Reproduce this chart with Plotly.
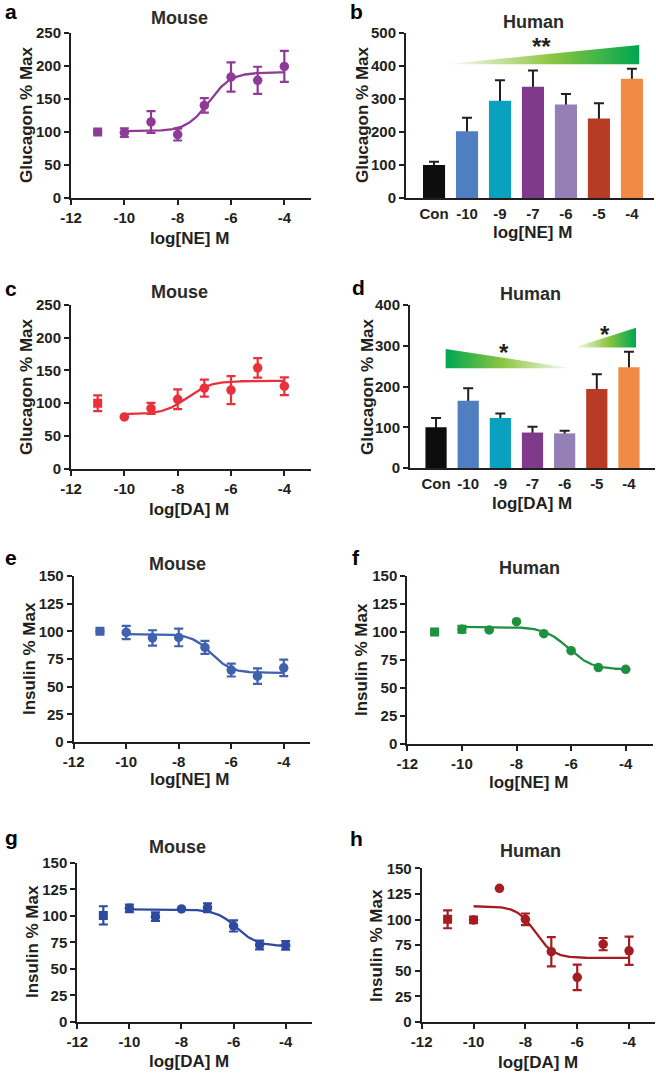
import numpy as np
import plotly.graph_objects as go

W, H = 656, 1073
FONT = "Liberation Sans, Arial, Helvetica, sans-serif"
INK = "#231f20"
TITLE_INK = "#2b2b2b"

# ---------------- data ----------------
doses = [-10, -9, -8, -7, -6, -5, -4]
ctrl_dose = [-11]
curve_ticks = [-12, -10, -8, -6, -4]
curve_ticktext = ["-12", "-10", "-8", "-6", "-4"]

# a: mouse glucagon, NE
a_y = [99, 115, 96, 140, 183, 178, 199]
a_err = [6.5, 16.5, 9, 11, 22, 20.5, 23.5]
a_ctrl = [100]
a_ctrl_err = [0]
a_fit = [101, 190, -6.83, 1.05]          # bottom, top, logEC50, hill

# b: human glucagon, NE (bars)
bar_labels = ["Con", "-10", "-9", "-7", "-6", "-5", "-4"]
bar_colors = ["#0d0d0d", "#4f7fc1", "#0aa0c0", "#7f3a8a", "#9580b6", "#b83b26", "#f18a45"]
b_y = [100, 202, 295, 337, 283, 241, 361]
b_err = [10, 41, 62, 49, 32, 46, 31]

# c: mouse glucagon, DA
c_y = [79, 92, 106, 123, 120, 154, 126]
c_err = [0, 8.5, 15, 13, 21.5, 15, 13.5]
c_ctrl = [100]
c_ctrl_err = [12]
c_fit = [83, 134, -7.65, 1.0]

# d: human glucagon, DA (bars)
d_y = [100, 165, 123, 87, 85, 194, 247]
d_err = [23, 31, 11, 14, 6.5, 36, 38]

# e: mouse insulin, NE
e_y = [99, 94, 94.5, 85.5, 65, 59.5, 67]
e_err = [6, 7, 8, 5.8, 5.8, 7, 7.5]
e_ctrl = [100]
e_ctrl_err = [0]
e_fit = [62.5, 97.5, -6.76, -1.16]

# f: human insulin, NE
f_y = [102.4, 101.8, 109.2, 98.5, 83.3, 68.2, 66.7]
f_err = [3, 0, 0, 0, 0, 0, 0]
f_ctrl = [100]
f_ctrl_err = [0]
f_fit = [66.5, 104.5, -6.1, -1.0]

# g: mouse insulin, DA
g_y = [107, 99.2, 106.5, 107.6, 90.4, 72.5, 72.2]
g_err = [3.5, 4, 0, 4.2, 5.2, 4.1, 4]
g_ctrl = [100.4]
g_ctrl_err = [8.6]
g_fit = [71.5, 106, -5.88, -1.1]

# h: human insulin, DA
h_y = [99.6, 130.5, 100.2, 68.6, 43.6, 76, 69.5]
h_err = [3.2, 0, 5.7, 14.3, 12.4, 6, 13.8]
h_ctrl = [100.2]
h_ctrl_err = [8.7]
h_fit = [62.5, 113, -7.62, -1.23]

# ---------------- figure ----------------
fig = go.Figure()
layout = dict(width=W, height=H, template="none",
              margin=dict(l=0, r=0, t=0, b=0, pad=0, autoexpand=False),
              paper_bgcolor="white", plot_bgcolor="white", showlegend=False)
annotations = []

tickfont = dict(family=FONT, size=15, color=INK, weight="bold")


def dom(box):
    x0, x1, y0, y1 = box
    return [x0 / W, x1 / W], [1 - y1 / H, 1 - y0 / H]


def axis_common():
    return dict(showline=True, linewidth=2, linecolor=INK, showgrid=False,
                zeroline=False, ticks="outside", ticklen=5, tickwidth=2,
                tickcolor=INK, tickfont=tickfont, fixedrange=True, automargin=False)


def text(xpx, ypx, s, size, angle=0, color=INK, xanchor="center"):
    annotations.append(dict(x=xpx / W, y=1 - ypx / H, xref="paper", yref="paper",
                            text=s, showarrow=False, textangle=angle,
                            xanchor=xanchor, yanchor="middle",
                            font=dict(family=FONT, size=size, color=color, weight="bold")))


def labels(letter, lpos, title, tpos, xlab, xpos, ylab, ypos):
    text(lpos[0], lpos[1], letter, 21, xanchor="left", color="#000000")
    text(tpos[0], tpos[1], title, 18, color=TITLE_INK)
    text(xpos[0], xpos[1], xlab, 17)
    text(ypos[0], ypos[1], ylab, 17, angle=-90)


def curve_panel(i, box, y, err, ctrl_y, ctrl_err, fit, color, ymax, ydtick):
    xd, yd = dom(box)
    layout[f"xaxis{i}"] = dict(axis_common(), domain=xd, anchor=f"y{i}", range=[-12, -3],
                               tickvals=curve_ticks, ticktext=curve_ticktext)
    layout[f"yaxis{i}"] = dict(axis_common(), domain=yd, anchor=f"x{i}", range=[0, ymax],
                               tick0=0, dtick=ydtick)
    bottom, top, x50, hill = fit
    xs = np.linspace(min(doses), max(doses), 241)
    ys = bottom + (top - bottom) / (1 + 10 ** ((x50 - xs) * hill))
    fig.add_trace(go.Scatter(x=xs, y=ys, mode="lines", line=dict(color=color, width=2.3),
                             xaxis=f"x{i}", yaxis=f"y{i}", hoverinfo="skip"))
    fig.add_trace(go.Scatter(x=doses, y=y, mode="markers",
                             marker=dict(symbol="circle", size=9.5, color=color),
                             error_y=dict(type="data", array=err, color=color,
                                          thickness=2.2, width=4.5, visible=True),
                             xaxis=f"x{i}", yaxis=f"y{i}"))
    fig.add_trace(go.Scatter(x=ctrl_dose, y=ctrl_y, mode="markers",
                             marker=dict(symbol="square", size=9, color=color),
                             error_y=dict(type="data", array=ctrl_err, color=color,
                                          thickness=2.2, width=4.5, visible=True),
                             xaxis=f"x{i}", yaxis=f"y{i}"))


def bar_panel(i, ov, box, y, err, xr, ymax, width):
    xd, yd = dom(box)
    pos = list(range(len(y)))
    layout[f"xaxis{i}"] = dict(axis_common(), domain=xd, anchor=f"y{i}", range=xr,
                               tickvals=pos, ticktext=bar_labels, ticklen=1,
                               tickcolor="rgba(0,0,0,0)")
    layout[f"yaxis{i}"] = dict(axis_common(), domain=yd, anchor=f"x{i}", range=[0, ymax],
                               tick0=0, dtick=100)
    layout[f"xaxis{ov}"] = dict(overlaying=f"x{i}", anchor=f"y{ov}", range=xr,
                                visible=False, fixedrange=True)
    layout[f"yaxis{ov}"] = dict(overlaying=f"y{i}", anchor=f"x{ov}", range=[0, ymax],
                                visible=False, fixedrange=True)
    fig.add_trace(go.Scatter(x=pos, y=y, mode="markers",
                             marker=dict(size=1, color="rgba(0,0,0,0)"),
                             error_y=dict(type="data", symmetric=False, array=err,
                                          arrayminus=[v * 0.5 for v in y], color=INK,
                                          thickness=2, width=5, visible=True),
                             xaxis=f"x{i}", yaxis=f"y{i}", hoverinfo="skip"))
    fig.add_trace(go.Bar(x=pos, y=y, width=width,
                         marker=dict(color=bar_colors, line=dict(width=0)),
                         xaxis=f"x{ov}", yaxis=f"y{ov}"))


def wedge(i, xs, ys, scale):
    fig.add_trace(go.Scatter(x=xs, y=ys, mode="lines", fill="toself",
                             line=dict(width=0, color="rgba(0,0,0,0)"),
                             fillgradient=dict(type="horizontal", colorscale=scale),
                             xaxis=f"x{i}", yaxis=f"y{i}", hoverinfo="skip"))


GREEN_UP = [[0, "#ffffff"], [0.55, "#8cc63f"], [1, "#00a651"]]
GREEN_DOWN = [[0, "#00a651"], [0.45, "#8cc63f"], [1, "#ffffff"]]

# panel a
curve_panel(1, (71, 311, 32.7, 198), a_y, a_err, a_ctrl, a_ctrl_err, a_fit, "#8e3a97", 250, 50)
labels("a", (3, 12), "Mouse", (179, 18), "log[NE] M", (189, 239), "Glucagon % Max", (26, 115))

# panel b
bar_panel(2, 9, (406, 654, 33, 198), b_y, b_err, [-0.85, 6.67], 500, 0.67)
wedge(2, [0.33, 6.22, 6.22], [405, 405, 464], GREEN_UP)
annotations.append(dict(x=3.26, y=458, xref="x2", yref="y2", text="**", showarrow=False,
                        font=dict(family=FONT, size=24, color=INK, weight="bold")))
labels("b", (348, 12), "Human", (533, 22), "log[NE] M", (532, 233), "Glucagon % Max", (362, 115))

# panel c
curve_panel(3, (71, 311, 305, 468.7), c_y, c_err, c_ctrl, c_ctrl_err, c_fit, "#e8313b", 250, 50)
labels("c", (3, 288), "Mouse", (179, 292), "log[DA] M", (189, 510), "Glucagon % Max", (26, 387))

# panel d
bar_panel(4, 10, (410, 655, 305, 468), d_y, d_err, [-0.81, 6.81], 400, 0.66)
wedge(4, [0.30, 0.30, 4.22], [245, 292, 245], GREEN_DOWN)
wedge(4, [4.29, 6.22, 6.22], [296, 296, 344], GREEN_UP)
annotations.append(dict(x=2.12, y=283, xref="x4", yref="y4", text="*", showarrow=False,
                        font=dict(family=FONT, size=24, color=INK, weight="bold")))
annotations.append(dict(x=5.27, y=327, xref="x4", yref="y4", text="*", showarrow=False,
                        font=dict(family=FONT, size=24, color=INK, weight="bold")))
labels("d", (350, 287), "Human", (530, 294), "log[DA] M", (532, 503), "Glucagon % Max", (367, 387))

# panel e
curve_panel(5, (73.7, 310, 576, 742), e_y, e_err, e_ctrl, e_ctrl_err, e_fit, "#4061ae", 150, 25)
labels("e", (3, 557), "Mouse", (177, 564), "log[NE] M", (189, 779), "Insulin % Max", (29, 659))

# panel f
curve_panel(6, (407.3, 653, 576, 744), f_y, f_err, f_ctrl, f_ctrl_err, f_fit, "#1f8f40", 150, 25)
labels("f", (350, 557), "Human", (529, 568), "log[NE] M", (528, 782), "Insulin % Max", (361, 660))

# panel g
curve_panel(7, (77.3, 311.7, 862.7, 1022), g_y, g_err, g_ctrl, g_ctrl_err, g_fit, "#2c4a9f", 150, 25)
labels("g", (3, 837), "Mouse", (177, 847), "log[DA] M", (189, 1061), "Insulin % Max", (32, 942))

# panel h
curve_panel(8, (421.7, 655, 868.3, 1022), h_y, h_err, h_ctrl, h_ctrl_err, h_fit, "#a51d23", 150, 25)
labels("h", (348, 838), "Human", (530, 851), "log[DA] M", (538, 1062), "Insulin % Max", (376, 945))

layout["annotations"] = annotations
fig.update_layout(**layout)
fig.write_html("out.html", config={"displayModeBar": False, "staticPlot": True},
               post_script="document.body.style.margin='0px';document.body.style.overflow='hidden';")
